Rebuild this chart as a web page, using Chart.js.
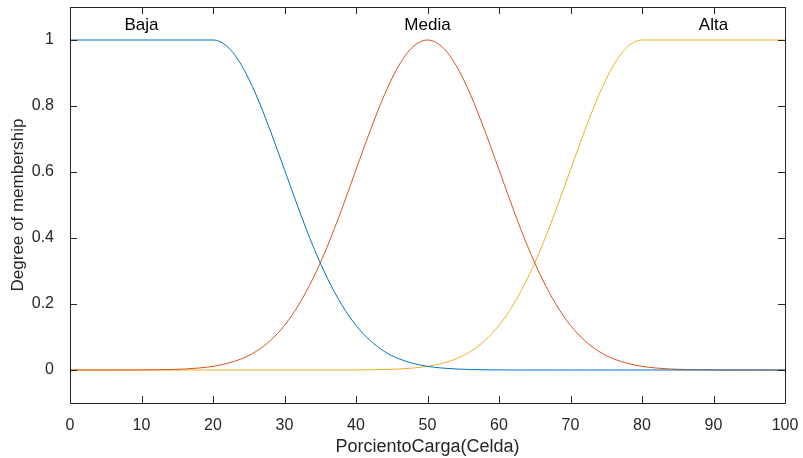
<!DOCTYPE html>
<html>
<head>
<meta charset="utf-8">
<script src="https://cdn.jsdelivr.net/npm/chart.js@4/dist/chart.umd.min.js"></script>
<style>
  html, body { margin: 0; padding: 0; background: #fff; }
  #wrap { width: 803px; height: 458px; }
</style>
</head>
<body>
<div id="wrap"><canvas id="mfChart" width="803" height="458"></canvas></div>
<script>
// x positions sampled along PorcientoCarga(Celda)
const xs = [0,2,4,6,8,10,12,14,16,18,20,22,24,26,28,30,32,34,36,38,40,42,44,46,48,50,
  52,54,56,58,60,62,64,66,68,70,72,74,76,78,80,82,84,86,88,90,92,94,96,98,100];

// values
const baja = [1,1,1,1,1,1,1,1,1,1,1,0.980,0.923,0.835,0.726,0.607,0.487,0.375,0.278,0.198,
  0.135,0.089,0.056,0.034,0.020,0.011,0.006,0.003,0.0015,0.0007,0.0003,0,0,0,0,0,0,0,0,0,
  0,0,0,0,0,0,0,0,0,0,0];
const media = [0,0,0,0,0,0.0003,0.0007,0.0015,0.003,0.006,0.011,0.020,0.034,0.056,0.089,
  0.135,0.198,0.278,0.375,0.487,0.607,0.726,0.835,0.923,0.980,1,0.980,0.923,0.835,0.726,
  0.607,0.487,0.375,0.278,0.198,0.135,0.089,0.056,0.034,0.020,0.011,0.006,0.003,0.0015,
  0.0007,0.0003,0,0,0,0,0];
const alta = [0,0,0,0,0,0,0,0,0,0,0,0,0,0,0,0,0,0,0,0,0.0003,0.0007,0.0015,0.003,0.006,
  0.011,0.020,0.034,0.056,0.089,0.135,0.198,0.278,0.375,0.487,0.607,0.726,0.835,0.923,
  0.980,1,1,1,1,1,1,1,1,1,1,1];

const mfNames = ["Baja", "Media", "Alta"];
const mfLabelX = [10, 50, 90];
const mfLabelY = 1.045;

const xTicks = [0,10,20,30,40,50,60,70,80,90,100];
const yTicks = [0, 0.2, 0.4, 0.6, 0.8, 1];
const yTickLabels = ["0", "0.2", "0.4", "0.6", "0.8", "1"];

const FONT = "'Liberation Sans', Arial, Helvetica, sans-serif";
const TEXT = "#262626";

const toPts = vals => xs.map((x, i) => ({ x: x, y: vals[i] }));

// axes box + inward ticks + mf names, MATLAB style
const boxPlugin = {
  id: "box",
  afterDatasetsDraw(chart) {
    const { ctx, chartArea: a, scales } = chart;
    const xs_ = scales.x, ys_ = scales.y;
    ctx.save();
    ctx.strokeStyle = TEXT;
    ctx.lineWidth = 1;
    ctx.beginPath();
    ctx.rect(Math.round(a.left) + 0.5, Math.round(a.top) + 0.5,
      Math.round(a.right - a.left), Math.round(a.bottom - a.top));
    const tl = 7;
    xTicks.forEach(v => {
      const px = Math.round(xs_.getPixelForValue(v)) + 0.5;
      ctx.moveTo(px, a.bottom); ctx.lineTo(px, a.bottom - tl);
      ctx.moveTo(px, a.top); ctx.lineTo(px, a.top + tl);
    });
    yTicks.forEach(v => {
      const py = Math.round(ys_.getPixelForValue(v)) + 0.5;
      ctx.moveTo(a.left, py); ctx.lineTo(a.left + tl, py);
      ctx.moveTo(a.right, py); ctx.lineTo(a.right - tl, py);
    });
    ctx.stroke();

    ctx.fillStyle = "#000";
    ctx.font = "17px " + FONT;
    ctx.textAlign = "center";
    ctx.textBaseline = "middle";
    mfNames.forEach((n, i) => {
      ctx.fillText(n, xs_.getPixelForValue(mfLabelX[i]), ys_.getPixelForValue(mfLabelY));
    });
    ctx.restore();
  }
};

const ds = (label, vals, color) => ({
  label: label,
  data: toPts(vals),
  borderColor: color,
  borderWidth: 1,
  pointRadius: 0,
  fill: false,
  cubicInterpolationMode: "monotone"
});

new Chart(document.getElementById("mfChart"), {
  type: "line",
  data: {
    datasets: [
      ds("Baja", baja, "#0072BD"),
      ds("Media", media, "#D95319"),
      ds("Alta", alta, "#EDB120")
    ]
  },
  options: {
    responsive: false,
    animation: false,
    layout: { padding: { top: 7, right: 18, left: 8, bottom: 0 } },
    plugins: { legend: { display: false }, tooltip: { enabled: false } },
    scales: {
      x: {
        type: "linear",
        min: 0, max: 100,
        grid: { display: false },
        border: { display: false },
        afterBuildTicks: s => { s.ticks = xTicks.map(v => ({ value: v })); },
        afterFit: s => { s.height = 55; s.paddingLeft = 0; s.paddingRight = 0; },
        ticks: { color: TEXT, font: { family: FONT, size: 16 }, padding: 5, maxRotation: 0 },
        title: {
          display: true, text: "PorcientoCarga(Celda)", color: TEXT,
          font: { family: FONT, size: 18 }, padding: { top: 0, bottom: 0 }
        }
      },
      y: {
        min: -0.1, max: 1.1,
        grid: { display: false },
        border: { display: false },
        afterBuildTicks: s => { s.ticks = yTicks.map(v => ({ value: v })); },
        afterFit: s => { s.width = 62; s.paddingTop = 0; s.paddingBottom = 0; },
        ticks: {
          color: TEXT, font: { family: FONT, size: 16 }, padding: 8,
          callback: (v) => { const i = yTicks.indexOf(v); return i >= 0 ? yTickLabels[i] : ""; }
        },
        title: {
          display: true, text: "Degree of membership", color: TEXT,
          font: { family: FONT, size: 17 }, padding: { top: 0, bottom: 0 }
        }
      }
    }
  },
  plugins: [boxPlugin]
});
</script>
</body>
</html>
